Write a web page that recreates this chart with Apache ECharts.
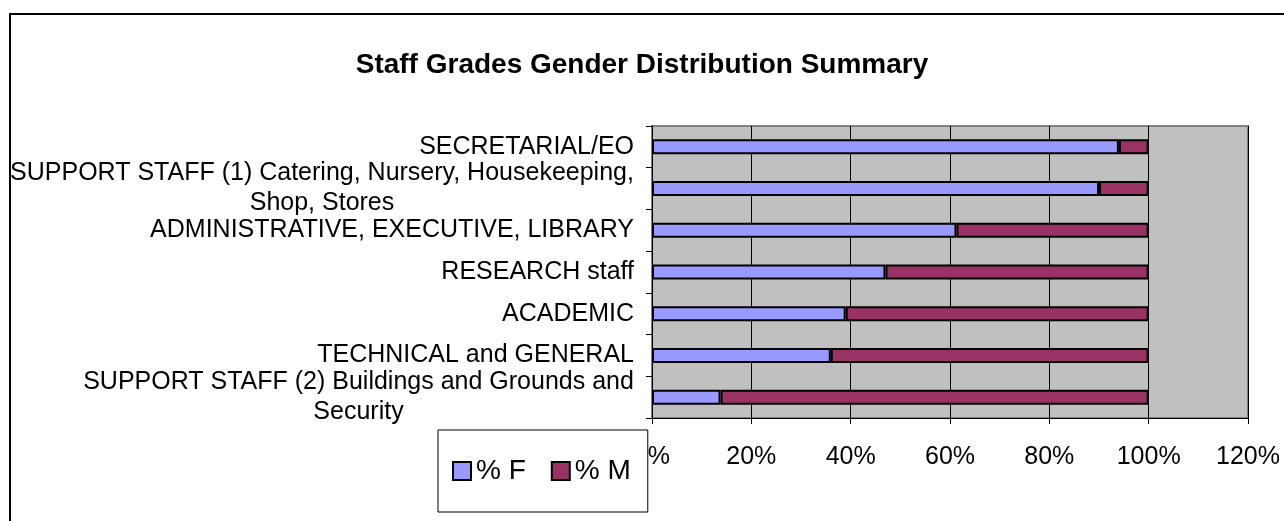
<!DOCTYPE html>
<html>
<head>
<meta charset="utf-8">
<script src="https://cdn.jsdelivr.net/npm/echarts@6/dist/echarts.min.js"></script>
<style>
  html, body { margin: 0; padding: 0; background: #fff; }
  #chart-container { width: 1284px; height: 521px; }
</style>
</head>
<body>
<div id="chart-container"></div>
<script>
const categories = [
  'SECRETARIAL/EO',
  'SUPPORT STAFF (1) Catering, Nursery, Housekeeping,\nShop, Stores',
  'ADMINISTRATIVE, EXECUTIVE, LIBRARY',
  'RESEARCH staff',
  'ACADEMIC',
  'TECHNICAL and GENERAL',
  'SUPPORT STAFF (2) Buildings and Grounds and\nSecurity'
]
const femalePct = [94, 90, 61.3, 47, 39, 36, 13.8]
const malePct = [6, 10, 38.7, 53, 61, 64, 86.2]
const xTicks = [0, 20, 40, 60, 80, 100, 120]

const FONT = '"Liberation Sans", Arial, sans-serif'
const LABEL_SIZE = 25
const LINE_H = 30

// wrapped labels: centre the short line under the long one, like Excel does
const ctx = document.createElement('canvas').getContext('2d')
ctx.font = LABEL_SIZE + 'px ' + FONT
const rich = {}
const labelText = categories.map((c, i) => {
  const lines = c.split('\n')
  if (lines.length === 1) return c
  const w = Math.max(...lines.map(l => ctx.measureText(l).width))
  rich['l' + i] = { width: Math.ceil(w), align: 'center', fontSize: LABEL_SIZE, fontFamily: FONT, color: '#000', lineHeight: LINE_H }
  return lines.map(l => `{l${i}|${l}}`).join('\n')
})

const dom = document.getElementById('chart-container')
const myChart = echarts.init(dom, null, { renderer: 'canvas' })

const options = {
  animation: false,
  title: {
    text: 'Staff Grades Gender Distribution Summary',
    left: 'center',
    top: 46,
    textStyle: { fontFamily: FONT, fontSize: 28, fontWeight: 'bold', color: '#000' }
  },
  graphic: [{
    type: 'rect',
    silent: true,
    z: -10,
    shape: { x: 10, y: 14, width: 1400, height: 600 },
    style: { fill: 'none', stroke: '#000', lineWidth: 2 }
  }],
  legend: {
    left: 438,
    top: 430,
    orient: 'horizontal',
    icon: 'rect',
    itemWidth: 18,
    itemHeight: 18,
    itemGap: 25,
    itemTextGap: 7,
    padding: [27, 17, 27, 14],
    backgroundColor: '#fff',
    borderColor: '#000',
    borderWidth: 1,
    borderRadius: 0,
    itemStyle: { borderColor: '#000', borderWidth: 2 },
    textStyle: { fontFamily: FONT, fontSize: 28, color: '#000' },
    data: ['% F', '% M']
  },
  grid: {
    left: 652,
    right: 36,
    top: 126,
    bottom: 103,
    show: true,
    backgroundColor: '#C0C0C0',
    borderColor: '#808080',
    borderWidth: 2
  },
  xAxis: {
    type: 'value',
    min: xTicks[0],
    max: xTicks[xTicks.length - 1],
    interval: 20,
    axisLine: { show: true, lineStyle: { color: '#000', width: 1 } },
    axisTick: { show: true, length: 6, lineStyle: { color: '#000' } },
    splitLine: { show: true, lineStyle: { color: '#000', width: 1 } },
    axisLabel: {
      margin: 27,
      fontFamily: FONT,
      fontSize: 25,
      color: '#000',
      formatter: v => v + '%'
    }
  },
  yAxis: {
    type: 'category',
    inverse: true,
    data: categories,
    axisLine: { show: true, lineStyle: { color: '#000', width: 1 } },
    axisTick: { show: true, length: 6, lineStyle: { color: '#000' } },
    splitLine: { show: false },
    axisLabel: {
      margin: 18,
      fontFamily: FONT,
      fontSize: LABEL_SIZE,
      color: '#000',
      lineHeight: LINE_H,
      interval: 0,
      rich: rich,
      formatter: (v, i) => labelText[i]
    }
  },
  series: [
    {
      name: '% F',
      type: 'bar',
      stack: 'pct',
      barWidth: 15,
      itemStyle: { color: '#9999FF', borderColor: '#000', borderWidth: 2 },
      data: femalePct
    },
    {
      name: '% M',
      type: 'bar',
      stack: 'pct',
      barWidth: 15,
      itemStyle: { color: '#993366', borderColor: '#000', borderWidth: 2 },
      data: malePct
    }
  ]
}

myChart.setOption(options)
window.addEventListener('resize', myChart.resize)
</script>
</body>
</html>
